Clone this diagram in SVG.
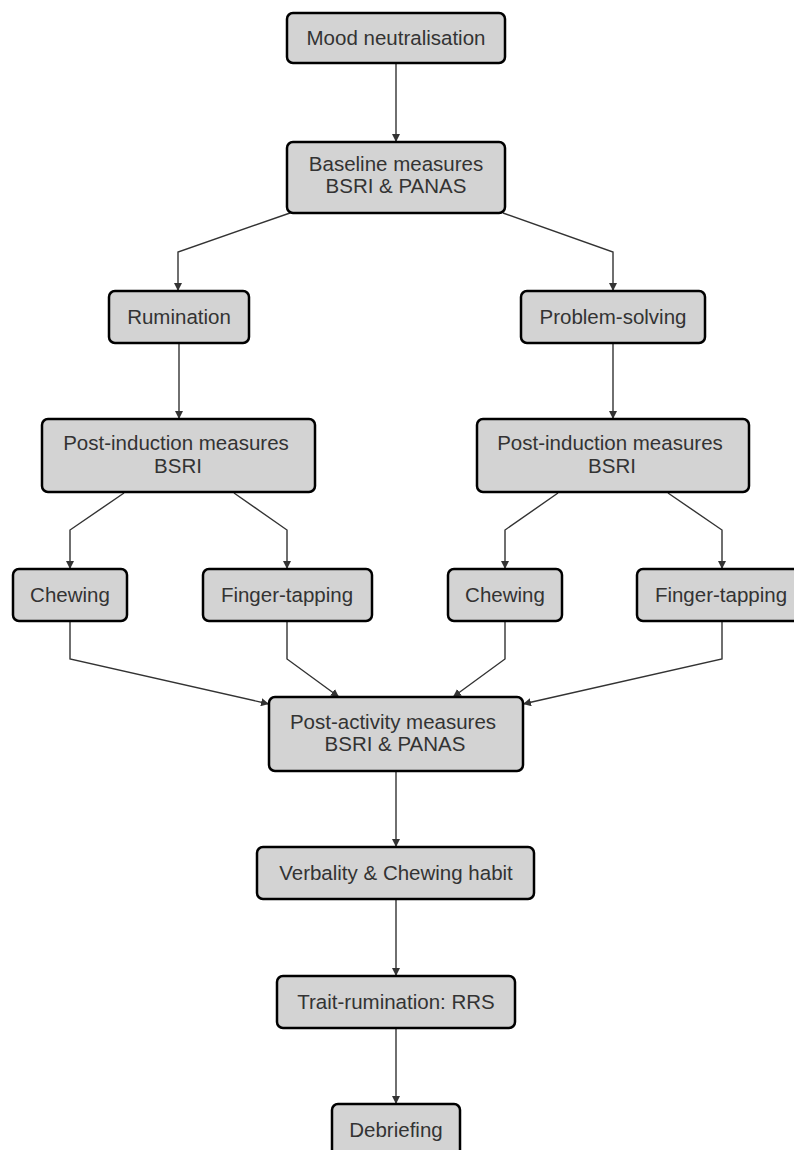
<svg xmlns="http://www.w3.org/2000/svg" width="794" height="1150" viewBox="0 0 794 1150">
<defs>
<marker id="arr" viewBox="0 0 10 10" refX="10" refY="5" markerWidth="8" markerHeight="8" markerUnits="userSpaceOnUse" orient="auto">
<path d="M0,0 L10,5 L0,10 z" fill="#333"/>
</marker>
<style>
.box{fill:#d3d3d3;stroke:#000;stroke-width:2.5}
.t{font-family:"Liberation Sans",Arial,sans-serif;font-size:20.5px;fill:#333;text-anchor:middle}
.c{fill:none;stroke:#333;stroke-width:1.4;marker-end:url(#arr)}
</style>
</defs>
<rect width="794" height="1150" fill="#fff"/>
<g id="connectors">
<path class="c" d="M396,63 L396,142"/>
<path class="c" d="M290,213 L178,252 L178,291"/>
<path class="c" d="M503,213 L613,252 L613,291"/>
<path class="c" d="M179,343 L179,419"/>
<path class="c" d="M613,343 L613,419"/>
<path class="c" d="M124,493 L70,530 L70,569"/>
<path class="c" d="M234,493 L287,530 L287,569"/>
<path class="c" d="M558,493 L505,530 L505,569"/>
<path class="c" d="M668,493 L722,530 L722,569"/>
<path class="c" d="M70,621 L70,659 L269,704"/>
<path class="c" d="M287,621 L287,659 L339,697"/>
<path class="c" d="M505,621 L505,659 L453,697"/>
<path class="c" d="M722,621 L722,659 L523,704"/>
<path class="c" d="M396,771 L396,847"/>
<path class="c" d="M396,899 L396,976"/>
<path class="c" d="M396,1028 L396,1104"/>
</g>
<g id="mood"><rect class="box" x="287" y="13" width="218" height="50" rx="6"/><text class="t" x="396" y="45">Mood neutralisation</text></g>
<g id="baseline"><rect class="box" x="287" y="142" width="218" height="71" rx="6"/><text class="t" x="396" y="171">Baseline measures</text><text class="t" x="396" y="193">BSRI &amp; PANAS</text></g>
<g id="rumination"><rect class="box" x="109" y="291" width="140" height="52" rx="6"/><text class="t" x="179" y="324">Rumination</text></g>
<g id="problem"><rect class="box" x="521" y="291" width="184" height="52" rx="6"/><text class="t" x="613" y="324">Problem-solving</text></g>
<g id="postind-left"><rect class="box" x="42" y="419" width="273" height="73" rx="6"/><text class="t" x="176" y="450">Post-induction measures</text><text class="t" x="178" y="473">BSRI</text></g>
<g id="postind-right"><rect class="box" x="477" y="419" width="272" height="73" rx="6"/><text class="t" x="610" y="450">Post-induction measures</text><text class="t" x="612" y="473">BSRI</text></g>
<g id="chew-left"><rect class="box" x="13" y="569" width="114" height="52" rx="6"/><text class="t" x="70" y="602">Chewing</text></g>
<g id="finger-left"><rect class="box" x="203" y="569" width="169" height="52" rx="6"/><text class="t" x="287" y="602">Finger-tapping</text></g>
<g id="chew-right"><rect class="box" x="448" y="569" width="114" height="52" rx="6"/><text class="t" x="505" y="602">Chewing</text></g>
<g id="finger-right"><rect class="box" x="637" y="569" width="169" height="52" rx="6"/><text class="t" x="721" y="602">Finger-tapping</text></g>
<g id="postact"><rect class="box" x="269" y="697" width="254" height="74" rx="6"/><text class="t" x="393" y="729">Post-activity measures</text><text class="t" x="395" y="751">BSRI &amp; PANAS</text></g>
<g id="verbality"><rect class="box" x="257" y="847" width="277" height="52" rx="6"/><text class="t" x="396" y="880">Verbality &amp; Chewing habit</text></g>
<g id="trait"><rect class="box" x="277" y="976" width="238" height="52" rx="6"/><text class="t" x="396" y="1009">Trait-rumination: RRS</text></g>
<g id="debrief"><rect class="box" x="332" y="1104" width="128" height="60" rx="6"/><text class="t" x="396" y="1137">Debriefing</text></g>
</svg>
